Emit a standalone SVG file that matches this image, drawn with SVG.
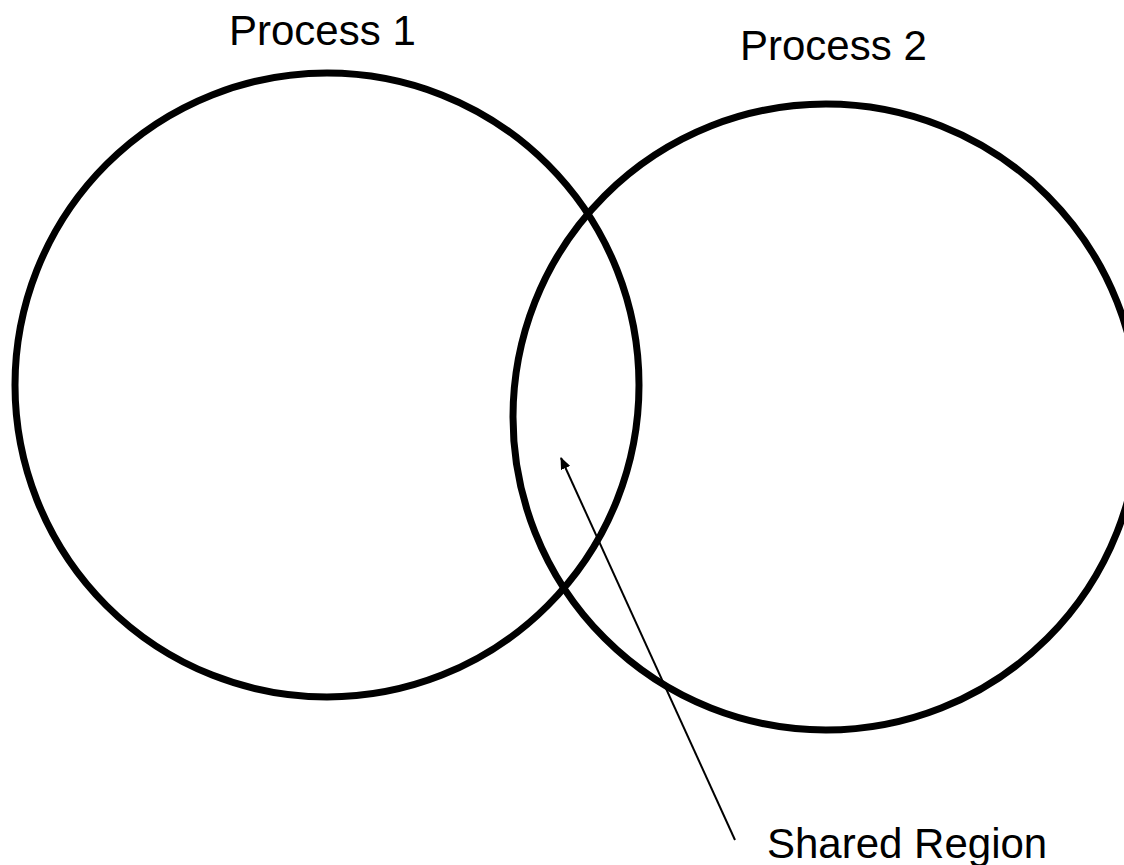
<svg xmlns="http://www.w3.org/2000/svg" width="1124" height="865" viewBox="0 0 1124 865">
<style>
.set{fill:none;stroke:#000;stroke-width:7}
.lbl{font-family:"Liberation Sans",Arial,sans-serif;font-size:42px;fill:#000}
.conn{stroke:#000;stroke-width:2;fill:none}
</style>
<defs>
<marker id="ah" markerWidth="12" markerHeight="10" refX="11" refY="5" orient="auto" markerUnits="userSpaceOnUse">
<path d="M0,0 L12,5 L0,10 Z" fill="#000"/>
</marker>
</defs>
<rect width="1124" height="865" fill="#fff"/>
<g id="process1">
<circle class="set" cx="327" cy="385" r="312"/>
<text class="lbl" x="229" y="45">Process 1</text>
</g>
<g id="process2">
<circle class="set" cx="826" cy="417" r="313"/>
<text class="lbl" x="740" y="60">Process 2</text>
</g>
<g id="shared">
<text class="lbl" x="767" y="858">Shared Region</text>
</g>
<g id="connectors">
<line class="conn" x1="735" y1="840" x2="561" y2="458" marker-end="url(#ah)"/>
</g>
</svg>
